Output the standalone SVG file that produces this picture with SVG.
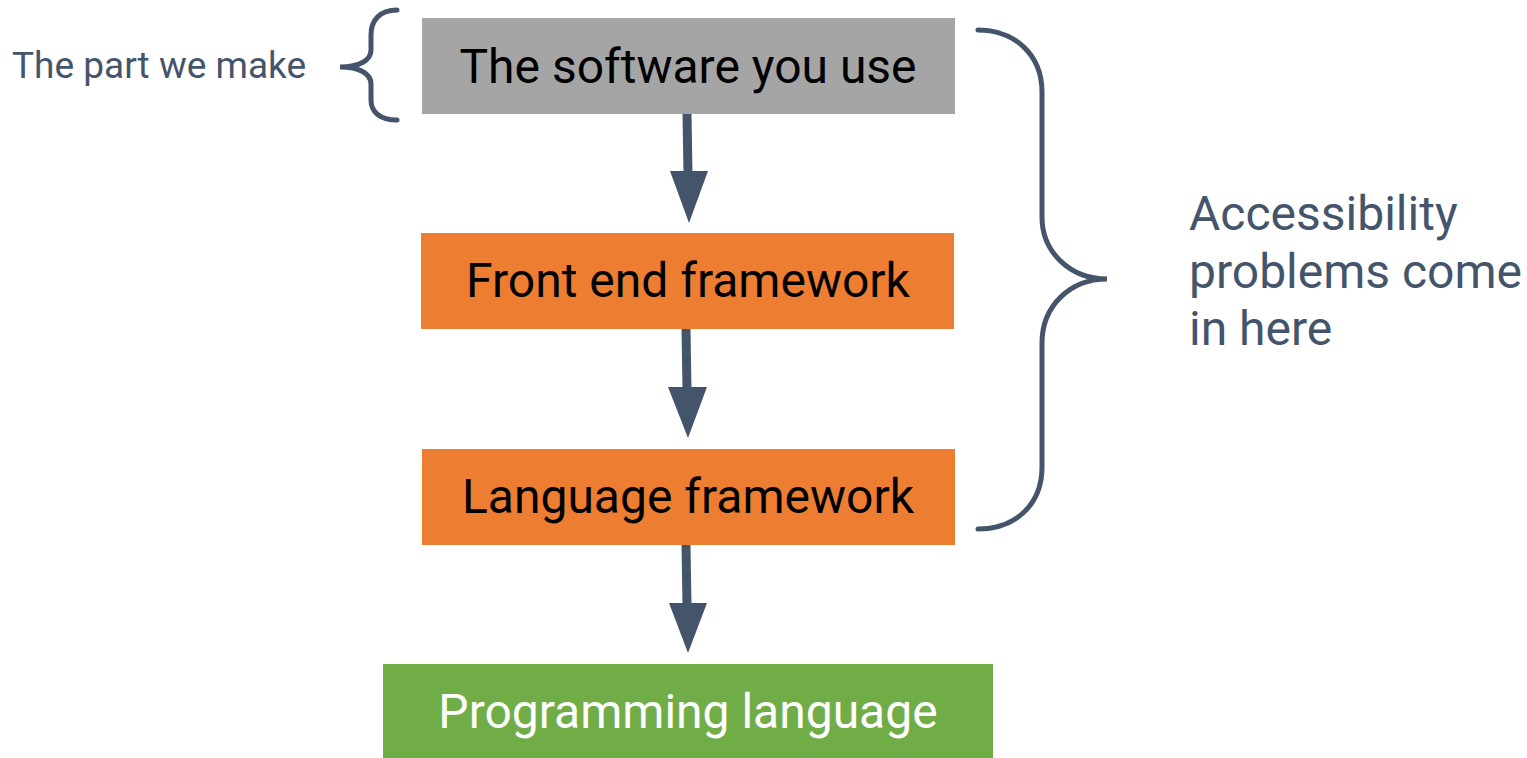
<svg xmlns="http://www.w3.org/2000/svg" width="1527" height="758" viewBox="0 0 1527 758">
<style>
.box-text{font-family:Roboto,"Liberation Sans",sans-serif;font-size:48px;text-anchor:middle}
.label{font-family:Roboto,"Liberation Sans",sans-serif;fill:#44546a}
.brace{fill:none;stroke:#44546a;stroke-width:5;stroke-linecap:round}
.shaft{stroke:#44546a;stroke-width:9}
.head{fill:#44546a}
</style>
<rect width="1527" height="758" fill="#ffffff"/>
<g id="node-software">
<rect x="422" y="18" width="533" height="96" fill="#a5a5a5"/>
<text class="box-text" x="688" y="83" fill="#000000">The software you use</text>
</g>
<g id="node-frontend">
<rect x="421" y="233" width="533" height="96" fill="#ed7d31"/>
<text class="box-text" x="688" y="297" fill="#000000">Front end framework</text>
</g>
<g id="node-langfw">
<rect x="422" y="449" width="533" height="96" fill="#ed7d31"/>
<text class="box-text" x="688" y="513" fill="#000000">Language framework</text>
</g>
<g id="node-proglang">
<rect x="383" y="664" width="610" height="94" fill="#70ad47"/>
<text class="box-text" x="688" y="728" fill="#ffffff">Programming language</text>
</g>
<g id="connectors">
<line class="shaft" x1="687" y1="114" x2="688" y2="174"/>
<polygon class="head" points="670,171 708,171 689,223"/>
<line class="shaft" x1="686" y1="329" x2="687" y2="390"/>
<polygon class="head" points="668,387 707,387 688,438"/>
<line class="shaft" x1="686" y1="545" x2="687" y2="606"/>
<polygon class="head" points="669,603 707,603 688,653"/>
</g>
<g id="brace-left">
<path class="brace" d="M397,10 C380,10 371,20 371,35 L371,50 C371,60 360,67 340,67 C360,67 371,74 371,84 L371,100 C371,112 380,120 397,120"/>
<text class="label" x="12" y="78" font-size="37">The part we make</text>
</g>
<g id="brace-right">
<path class="brace" d="M978,30 C1015,30 1042,55 1042,92 L1042,217 C1042,252 1070,279 1107,279 C1070,279 1042,306 1042,343 L1042,467 C1042,505 1015,529 978,529"/>
<text class="label" font-size="48"><tspan x="1189" y="230">Accessibility</tspan><tspan x="1189" y="288">problems come</tspan><tspan x="1189" y="345">in here</tspan></text>
</g>
</svg>
